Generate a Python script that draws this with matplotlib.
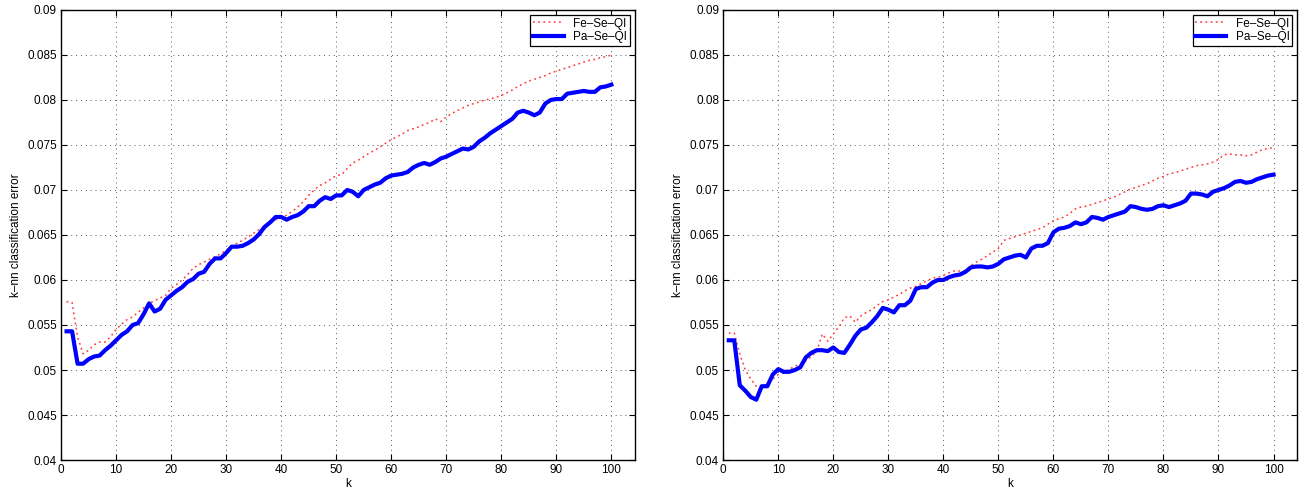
import numpy as np
import matplotlib
matplotlib.use("Agg")
import matplotlib.pyplot as plt

plt.rcParams['font.family'] = ['Liberation Sans', 'DejaVu Sans']

k = np.arange(1, 101)

fe_left = [0.0576, 0.0575, 0.0537, 0.0518, 0.0522, 0.0528, 0.0531, 0.0531, 0.0537, 0.0545,
           0.0551, 0.0556, 0.0559, 0.0564, 0.0569, 0.0574, 0.0577, 0.0580, 0.0583, 0.0591,
           0.0595, 0.0600, 0.0606, 0.0613, 0.0617, 0.0620, 0.0623, 0.0626, 0.0629, 0.0633,
           0.0637, 0.0641, 0.0644, 0.0648, 0.0652, 0.0656, 0.0660, 0.0663, 0.0667, 0.0669,
           0.0672, 0.0676, 0.0681, 0.0687, 0.0694, 0.0700, 0.0705, 0.0708, 0.0712, 0.0716,
           0.0717, 0.0724, 0.0730, 0.0733, 0.0737, 0.0741, 0.0744, 0.0748, 0.0752, 0.0756,
           0.0759, 0.0762, 0.0766, 0.0768, 0.0770, 0.0773, 0.0775, 0.0779, 0.0776, 0.0781,
           0.0785, 0.0788, 0.0791, 0.0794, 0.0796, 0.0798, 0.0800, 0.0801, 0.0803, 0.0805,
           0.0808, 0.0811, 0.0815, 0.0818, 0.0821, 0.0823, 0.0825, 0.0827, 0.0830, 0.0832,
           0.0834, 0.0836, 0.0838, 0.0840, 0.0842, 0.0844, 0.0845, 0.0847, 0.0848, 0.0850]

pa_left = [0.0543, 0.0543, 0.0507, 0.0507, 0.0512, 0.0515, 0.0516, 0.0522, 0.0527, 0.0533,
           0.0539, 0.0543, 0.0550, 0.0552, 0.0562, 0.0574, 0.0565, 0.0568, 0.0578, 0.0583,
           0.0588, 0.0592, 0.0598, 0.0601, 0.0607, 0.0609, 0.0618, 0.0624, 0.0624, 0.0630,
           0.0637, 0.0637, 0.0638, 0.0641, 0.0645, 0.0651, 0.0659, 0.0664, 0.0670, 0.0670,
           0.0667, 0.0670, 0.0672, 0.0676, 0.0682, 0.0682, 0.0688, 0.0692, 0.0690, 0.0694,
           0.0694, 0.0700, 0.0698, 0.0693, 0.0700, 0.0703, 0.0706, 0.0708, 0.0713, 0.0716,
           0.0717, 0.0718, 0.0720, 0.0725, 0.0728, 0.0730, 0.0728, 0.0731, 0.0735, 0.0737,
           0.0740, 0.0743, 0.0746, 0.0745, 0.0748, 0.0754, 0.0758, 0.0763, 0.0767, 0.0771,
           0.0775, 0.0779, 0.0786, 0.0788, 0.0786, 0.0783, 0.0786, 0.0796, 0.0800, 0.0801,
           0.0801, 0.0807, 0.0808, 0.0809, 0.0810, 0.0809, 0.0809, 0.0814, 0.0815, 0.0817]

fe_right = [0.0541, 0.0541, 0.0518, 0.0500, 0.0490, 0.0482, 0.0482, 0.0484, 0.0490, 0.0495,
            0.0497, 0.0501, 0.0504, 0.0507, 0.0510, 0.0515, 0.0521, 0.0540, 0.0532, 0.0540,
            0.0548, 0.0558, 0.0560, 0.0553, 0.0560, 0.0564, 0.0567, 0.0572, 0.0576, 0.0578,
            0.0581, 0.0584, 0.0588, 0.0591, 0.0593, 0.0596, 0.0599, 0.0602, 0.0603, 0.0605,
            0.0608, 0.0610, 0.0610, 0.0610, 0.0616, 0.0620, 0.0623, 0.0627, 0.0631, 0.0635,
            0.0644, 0.0646, 0.0648, 0.0650, 0.0652, 0.0654, 0.0656, 0.0658, 0.0662, 0.0666,
            0.0668, 0.0670, 0.0674, 0.0679, 0.0681, 0.0682, 0.0684, 0.0686, 0.0688, 0.0690,
            0.0692, 0.0695, 0.0698, 0.0701, 0.0703, 0.0705, 0.0707, 0.0710, 0.0713, 0.0715,
            0.0718, 0.0719, 0.0721, 0.0723, 0.0725, 0.0727, 0.0728, 0.0729, 0.0731, 0.0734,
            0.0739, 0.0740, 0.0739, 0.0739, 0.0738, 0.0739, 0.0742, 0.0745, 0.0746, 0.0747]

pa_right = [0.0533, 0.0533, 0.0483, 0.0477, 0.0470, 0.0467, 0.0482, 0.0482, 0.0495, 0.0501,
            0.0498, 0.0498, 0.0500, 0.0503, 0.0514, 0.0519, 0.0522, 0.0522, 0.0521, 0.0525,
            0.0520, 0.0519, 0.0528, 0.0538, 0.0545, 0.0547, 0.0553, 0.0560, 0.0569, 0.0567,
            0.0564, 0.0572, 0.0572, 0.0577, 0.0590, 0.0592, 0.0592, 0.0597, 0.0600, 0.0600,
            0.0603, 0.0605, 0.0606, 0.0609, 0.0614, 0.0615, 0.0615, 0.0614, 0.0615, 0.0618,
            0.0623, 0.0625, 0.0627, 0.0628, 0.0625, 0.0635, 0.0638, 0.0638, 0.0641, 0.0653,
            0.0657, 0.0658, 0.0660, 0.0664, 0.0662, 0.0664, 0.0670, 0.0669, 0.0667, 0.0670,
            0.0672, 0.0674, 0.0676, 0.0682, 0.0681, 0.0679, 0.0678, 0.0679, 0.0682, 0.0683,
            0.0681, 0.0683, 0.0685, 0.0688, 0.0696, 0.0696, 0.0695, 0.0693, 0.0698, 0.0700,
            0.0702, 0.0705, 0.0709, 0.0710, 0.0708, 0.0709, 0.0712, 0.0714, 0.0716, 0.0717]

xticks = np.arange(0, 101, 10)
yticks = [0.04, 0.045, 0.05, 0.055, 0.06, 0.065, 0.07, 0.075, 0.08, 0.085, 0.09]
ytick_labels = ['0.04', '0.045', '0.05', '0.055', '0.06', '0.065', '0.07', '0.075', '0.08', '0.085', '0.09']


def plot_panel(ax, fe, pa):
  ax.plot(k, fe, color='#ff3b3b', linestyle=(0, (1.2, 2.2)), linewidth=1.1, label='Fe\u2013Se\u2013QI')
  ax.plot(k, pa, color='#0000ff', linewidth=3, label='Pa\u2013Se\u2013QI')
  ax.set_xlim(0, 104.3)
  ax.set_ylim(0.04, 0.09)
  ax.set_xticks(xticks)
  ax.set_yticks(yticks)
  ax.set_yticklabels(ytick_labels)
  ax.tick_params(direction='in', top=True, right=True, length=4, width=0.8, labelsize=8.5, pad=3)
  ax.grid(True, linestyle=(0, (1, 4)), color='0.35', linewidth=0.7)
  for s in ax.spines.values():
    s.set_linewidth(1.0)
  ax.set_xlabel('k', fontsize=8.5, labelpad=1)
  ax.set_ylabel('k\u2013nn classification error', fontsize=8.5, labelpad=4)
  leg = ax.legend(loc='upper right', fontsize=8.5, fancybox=False, framealpha=1,
                  edgecolor='black', handlelength=2.6, borderpad=0.25, labelspacing=0.1,
                  borderaxespad=0.4, handletextpad=0.8)
  leg.get_frame().set_linewidth(0.9)


fig = plt.figure(figsize=(13.02, 4.97), dpi=100)
ax1 = fig.add_axes([0.0469, 0.0744, 0.4408, 0.9056])
ax2 = fig.add_axes([0.5555, 0.0744, 0.4408, 0.9056])
plot_panel(ax1, fe_left, pa_left)
plot_panel(ax2, fe_right, pa_right)

plt.savefig('out.png', dpi=100)
